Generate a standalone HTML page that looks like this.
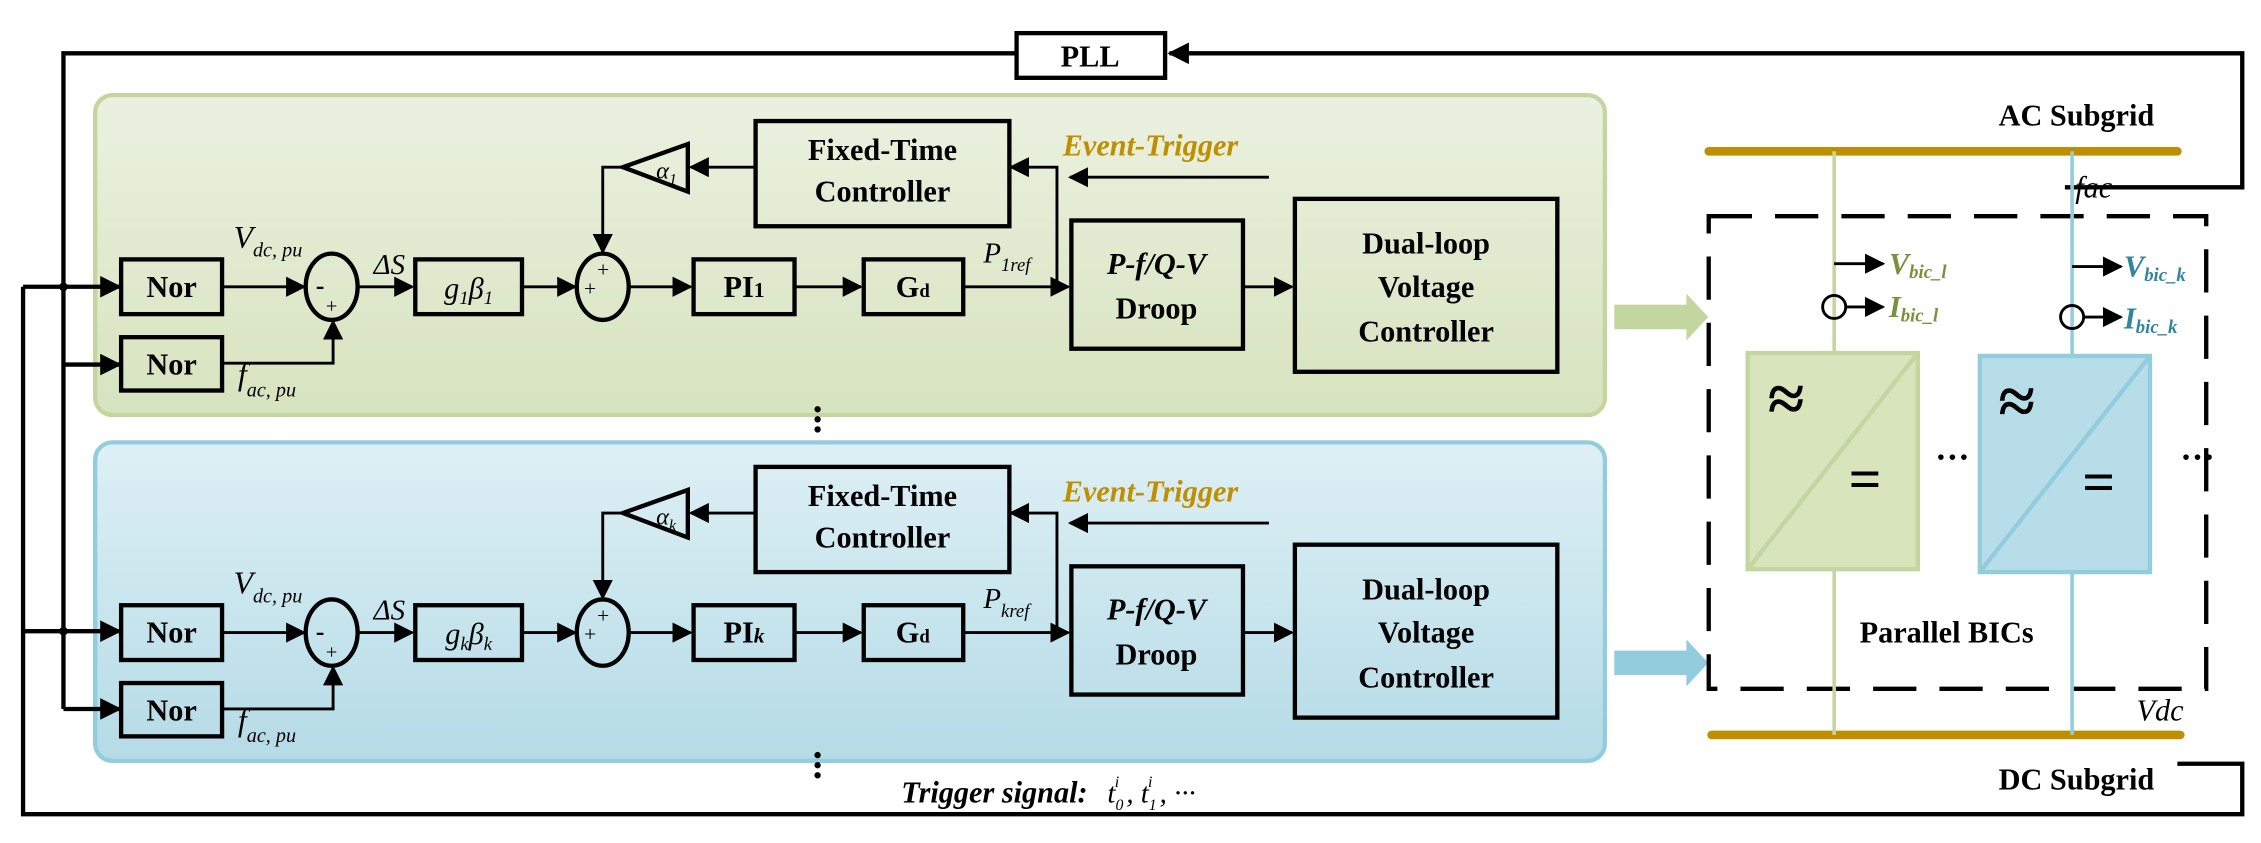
<!DOCTYPE html>
<html><head><meta charset="utf-8"><style>
html,body{margin:0;padding:0;background:#fff}
svg{display:block}
text{font-family:"Liberation Serif",serif}
.b{font-weight:bold;font-size:21px}
.i{font-style:italic}
</style></head><body>
<svg width="2261" height="843" viewBox="0 0 1568 585" preserveAspectRatio="none" xmlns="http://www.w3.org/2000/svg">
<defs>
<marker id="a" viewBox="0 0 10 10" refX="9" refY="5" markerWidth="5" markerHeight="5" orient="auto-start-reverse" markerUnits="strokeWidth"><path d="M0,0L10,5L0,10z" fill="#000"/></marker>
<marker id="s" viewBox="0 0 10 10" refX="9" refY="5" markerWidth="7" markerHeight="7" orient="auto" markerUnits="strokeWidth"><path d="M0,0L10,5L0,10z" fill="#000"/></marker>
<linearGradient id="gg" x1="0" y1="0" x2="0" y2="1"><stop offset="0" stop-color="#ebf1e0"/><stop offset="1" stop-color="#d7e3bf"/></linearGradient>
<linearGradient id="bg" x1="0" y1="0" x2="0" y2="1"><stop offset="0" stop-color="#def0f5"/><stop offset="1" stop-color="#b5dbe6"/></linearGradient>
<g id="blk">
 <rect x="84" y="180" width="70" height="38" fill="none" stroke="#000" stroke-width="3"/>
 <text x="119" y="206" class="b" text-anchor="middle">Nor</text>
 <rect x="84" y="234" width="70" height="37" fill="none" stroke="#000" stroke-width="3"/>
 <text x="119" y="260" class="b" text-anchor="middle">Nor</text>
 <ellipse cx="230" cy="199" rx="18" ry="23" fill="none" stroke="#000" stroke-width="3"/>
 <text x="219" y="204" font-size="18" font-weight="bold">-</text>
 <text x="226" y="217" font-size="14">+</text>
 <line x1="154" y1="199" x2="211" y2="199" stroke="#000" stroke-width="2" marker-end="url(#s)"/>
 <polyline points="154,252 231,252 231,223" fill="none" stroke="#000" stroke-width="2" marker-end="url(#s)"/>
 <text x="270" y="190" font-size="20" class="i" text-anchor="middle">ΔS</text>
 <line x1="248" y1="199" x2="286" y2="199" stroke="#000" stroke-width="2" marker-end="url(#s)"/>
 <rect x="288" y="180" width="74" height="38" fill="none" stroke="#000" stroke-width="3"/>
 <line x1="362" y1="199" x2="399" y2="199" stroke="#000" stroke-width="2" marker-end="url(#s)"/>
 <ellipse cx="418" cy="199" rx="18" ry="23" fill="none" stroke="#000" stroke-width="3"/>
 <text x="405" y="205" font-size="15">+</text>
 <text x="414" y="192" font-size="15">+</text>
 <line x1="436" y1="199" x2="479" y2="199" stroke="#000" stroke-width="2" marker-end="url(#s)"/>
 <rect x="481" y="180" width="70" height="38" fill="none" stroke="#000" stroke-width="3"/>
 <line x1="551" y1="199" x2="597" y2="199" stroke="#000" stroke-width="2" marker-end="url(#s)"/>
 <rect x="599" y="180" width="69" height="38" fill="none" stroke="#000" stroke-width="3"/>
 <text x="633" y="206" class="b" text-anchor="middle">G<tspan font-size="13">d</tspan></text>
 <line x1="668" y1="199" x2="741" y2="199" stroke="#000" stroke-width="2" marker-end="url(#s)"/>
 <rect x="743" y="153" width="119" height="89" fill="none" stroke="#000" stroke-width="3"/>
 <text x="802" y="190" class="b i" text-anchor="middle">P-f/Q-V</text>
 <text x="802" y="221" class="b" text-anchor="middle">Droop</text>
 <line x1="862" y1="199" x2="896" y2="199" stroke="#000" stroke-width="2" marker-end="url(#s)"/>
 <rect x="898" y="138" width="182" height="120" fill="none" stroke="#000" stroke-width="3"/>
 <text x="989" y="176" class="b" text-anchor="middle">Dual-loop</text>
 <text x="989" y="206" class="b" text-anchor="middle">Voltage</text>
 <text x="989" y="237" class="b" text-anchor="middle">Controller</text>
 <rect x="524" y="84" width="176" height="73" fill="none" stroke="#000" stroke-width="3"/>
 <text x="612" y="111" class="b" text-anchor="middle">Fixed-Time</text>
 <text x="612" y="140" class="b" text-anchor="middle">Controller</text>
 <polygon points="432,116 477,100 477,133" fill="none" stroke="#000" stroke-width="3"/>
 <line x1="524" y1="116" x2="479" y2="116" stroke="#000" stroke-width="2" marker-end="url(#s)"/>
 <polyline points="432,116 418,116 418,175" fill="none" stroke="#000" stroke-width="2" marker-end="url(#s)"/>
 <polyline points="733,199 733,116 701,116" fill="none" stroke="#000" stroke-width="2" marker-end="url(#s)"/>
 <line x1="880" y1="123" x2="742" y2="123" stroke="#000" stroke-width="2" marker-end="url(#s)"/>
 <text x="737" y="108" font-size="21" class="b i" fill="#bf8f00">Event-Trigger</text>
 <text x="162" y="172" font-size="22" class="i">V<tspan font-size="14" dy="6">dc, pu</tspan></text>
 <text x="165" y="267" font-size="22" class="i">f<tspan font-size="14" dy="8">ac, pu</tspan></text>
</g>
</defs>
<rect x="66" y="66" width="1047" height="222" rx="12" fill="url(#gg)" stroke="#c4d6a0" stroke-width="3"/>
<rect x="66" y="307" width="1047" height="221" rx="12" fill="url(#bg)" stroke="#93cddd" stroke-width="3"/>
<use href="#blk"/>
<use href="#blk" y="240"/>
<text x="325" y="207" font-size="21" class="i" text-anchor="middle">g<tspan font-size="13" dy="4">1</tspan><tspan dy="-4">β</tspan><tspan font-size="13" dy="4">1</tspan></text>
<text x="325" y="447" font-size="21" class="i" text-anchor="middle">g<tspan font-size="13" dy="4">k</tspan><tspan dy="-4">β</tspan><tspan font-size="13" dy="4">k</tspan></text>
<text x="516" y="206" class="b" text-anchor="middle">PI<tspan font-size="15">1</tspan></text>
<text x="516" y="446" class="b" text-anchor="middle">PI<tspan font-size="15" class="i">k</tspan></text>
<text x="455" y="124" font-size="17" class="i">α<tspan font-size="11" dy="4">1</tspan></text>
<text x="455" y="364" font-size="17" class="i">α<tspan font-size="11" dy="4">k</tspan></text>
<text x="682" y="182" font-size="20" class="i">P<tspan font-size="13" dy="6">1ref</tspan></text>
<text x="682" y="422" font-size="20" class="i">P<tspan font-size="13" dy="6">kref</tspan></text>
<g fill="#000"><circle cx="567" cy="284" r="2.2"/><circle cx="567" cy="291" r="2.2"/><circle cx="567" cy="298" r="2.2"/>
<circle cx="567" cy="524" r="2.2"/><circle cx="567" cy="531" r="2.2"/><circle cx="567" cy="538" r="2.2"/></g>
<g fill="none" stroke="#000" stroke-width="3">
<polyline points="705,37 44,37 44,492"/>
<polyline points="1510,530 1555,530 1555,565 16,565 16,199"/>
<polyline points="1432,130 1555,130 1555,37 811,37" marker-end="url(#a)"/>
<line x1="16" y1="199" x2="83" y2="199" marker-end="url(#a)"/>
<line x1="44" y1="253" x2="83" y2="253" marker-end="url(#a)"/>
<line x1="16" y1="438" x2="83" y2="438" marker-end="url(#a)"/>
<line x1="44" y1="492" x2="83" y2="492" marker-end="url(#a)"/>
</g>
<circle cx="44" cy="199" r="3" fill="#000"/><circle cx="44" cy="438" r="3" fill="#000"/>
<rect x="705" y="23" width="103" height="31" fill="#fff" stroke="#000" stroke-width="3"/>
<text x="756" y="46" class="b" text-anchor="middle">PLL</text>
<polygon points="1120,212 1170,212 1170,205 1184,220 1170,235 1170,228 1120,228" fill="#c4d6a0" stroke="#c4d6a0"/>
<polygon points="1120,452 1170,452 1170,445 1184,460 1170,475 1170,468 1120,468" fill="#93cddd" stroke="#93cddd"/>
<line x1="1185" y1="105" x2="1510" y2="105" stroke="#bf8f00" stroke-width="6" stroke-linecap="round"/>
<line x1="1187" y1="510" x2="1512" y2="510" stroke="#bf8f00" stroke-width="6" stroke-linecap="round"/>
<text x="1440" y="87" class="b" text-anchor="middle">AC Subgrid</text>
<text x="1440" y="548" class="b" text-anchor="middle">DC Subgrid</text>
<text x="1452" y="137" font-size="21" class="i" text-anchor="middle">fac</text>
<text x="1498" y="500" font-size="21" class="i" text-anchor="middle">Vdc</text>
<rect x="1185" y="150" width="345" height="328" fill="none" stroke="#000" stroke-width="3" stroke-dasharray="30,16"/>
<line x1="1272" y1="105" x2="1272" y2="510" stroke="#c4d6a0" stroke-width="2.5"/>
<line x1="1437" y1="105" x2="1437" y2="510" stroke="#93cddd" stroke-width="2.5"/>
<rect x="1212" y="245" width="118" height="150" fill="#d8e4bc" stroke="#c4d6a0" stroke-width="3"/>
<line x1="1212" y1="395" x2="1330" y2="245" stroke="#c4d6a0" stroke-width="3"/>
<rect x="1373" y="247" width="118" height="150" fill="#b7dde8" stroke="#93cddd" stroke-width="3"/>
<line x1="1373" y1="397" x2="1491" y2="247" stroke="#93cddd" stroke-width="3"/>
<text x="1226" y="292" font-size="46" font-weight="bold">≈</text>
<text x="1282" y="346" font-size="40" font-weight="bold">=</text>
<text x="1386" y="294" font-size="46" font-weight="bold">≈</text>
<text x="1444" y="348" font-size="40" font-weight="bold">=</text>
<text x="1354" y="325" font-size="24" font-weight="bold" text-anchor="middle">···</text>
<text x="1524" y="325" font-size="24" font-weight="bold" text-anchor="middle">···</text>
<text x="1350" y="446" class="b" text-anchor="middle">Parallel BICs</text>
<g stroke="#000" stroke-width="2" fill="none">
<line x1="1272" y1="183" x2="1306" y2="183" marker-end="url(#s)"/>
<circle cx="1272" cy="213" r="8"/>
<line x1="1280" y1="213" x2="1306" y2="213" marker-end="url(#s)"/>
<line x1="1437" y1="185" x2="1471" y2="185" marker-end="url(#s)"/>
<circle cx="1437" cy="220" r="8"/>
<line x1="1445" y1="220" x2="1471" y2="220" marker-end="url(#s)"/>
</g>
<text x="1310" y="190" font-size="18" class="b i" fill="#77933c">V<tspan font-size="13" dy="3">bic_l</tspan></text>
<text x="1310" y="220" font-size="18" class="b i" fill="#77933c">I<tspan font-size="13" dy="3">bic_l</tspan></text>
<text x="1473" y="192" font-size="18" class="b i" fill="#31859c">V<tspan font-size="13" dy="3">bic_k</tspan></text>
<text x="1473" y="228" font-size="18" class="b i" fill="#31859c">I<tspan font-size="13" dy="3">bic_k</tspan></text>
<text x="625" y="557" font-size="19" class="b i">Trigger signal:</text>
<text x="768" y="557" font-size="20" class="i">t<tspan font-size="11" dy="5">0</tspan><tspan font-size="11" dx="-6" dy="-16">i</tspan><tspan dy="11"> , t</tspan><tspan font-size="11" dy="5">1</tspan><tspan font-size="11" dx="-6" dy="-16">i</tspan><tspan dy="11"> , ···</tspan></text>
</svg>
</body></html>
